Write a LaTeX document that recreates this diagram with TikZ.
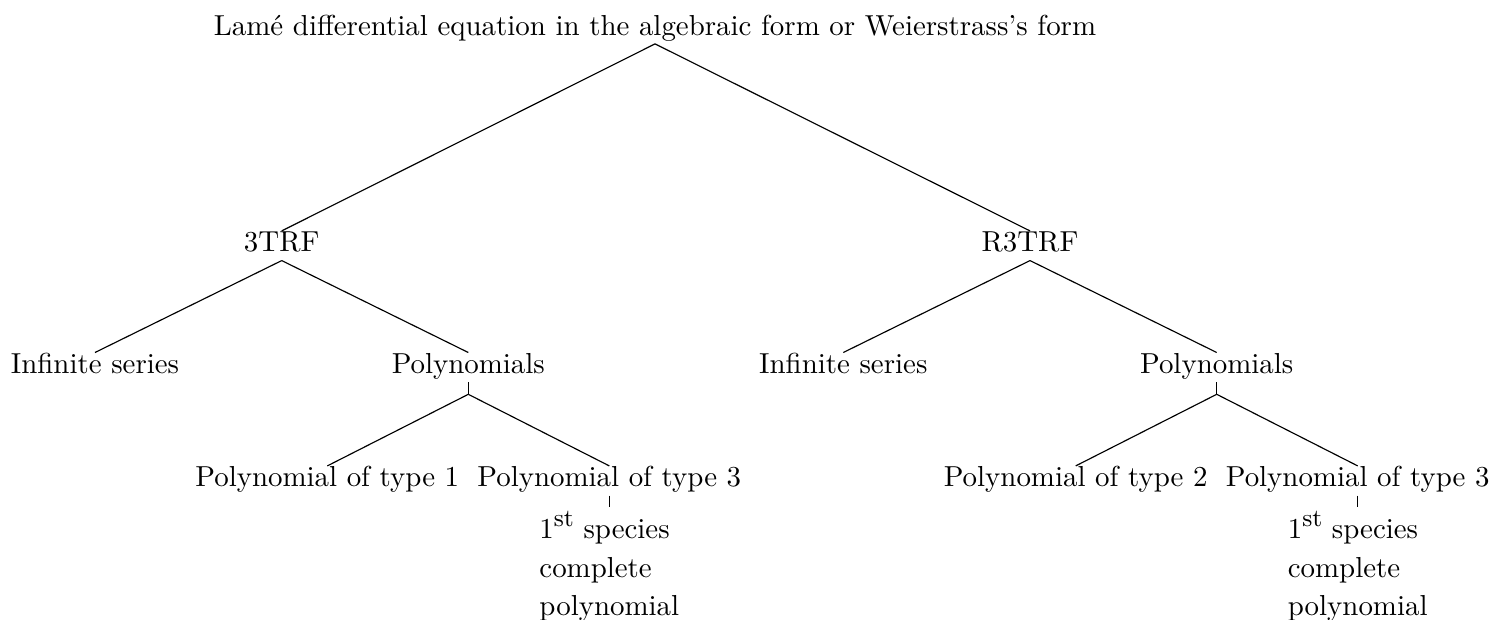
\documentclass[tikz,border=0pt]{standalone}
\usepackage{fontspec}
\newcommand{\supst}{\raisebox{4.1pt}{\fontsize{8.6pt}{10pt}\selectfont st}}
\begin{document}
\begin{tikzpicture}[x=0.34602pt,y=-0.34602pt,
  lbl/.style={inner sep=0pt,text height=7pt,text depth=2.87pt,anchor=base},
  multi/.style={inner xsep=0pt,inner ysep=1.5pt,align=left,anchor=north},
  conn/.style={line width=0.4pt}]
\useasboundingbox (0,0) rectangle (1495,619);
% level 0
\node[lbl] (root) at (655,35) {Lamé differential equation in the algebraic form or Weierstrass's form};
% level 1
\node[lbl] (a) at (281.7,251.7) {3TRF};
\node[lbl] (b) at (1030,251.7) {R3TRF};
% level 2
\node[lbl] (ais) at (95,373.3) {Infinite series};
\node[lbl] (ap) at (468.3,373.3) {Polynomials};
\node[lbl] (bis) at (843.3,373.3) {Infinite series};
\node[lbl] (bp) at (1216.7,373.3) {Polynomials};
\coordinate (aj) at (468.3,394.3);
\coordinate (bj) at (1216.7,394.3);
% level 3
\node[lbl] (at1) at (327.3,486.7) {Polynomial of type 1};
\node[lbl] (at3) at (609.3,486.7) {Polynomial of type 3};
\node[lbl] (bt2) at (1075.7,486.7) {Polynomial of type 2};
\node[lbl] (bt3) at (1357.7,486.7) {Polynomial of type 3};
% level 4
\node[multi] (as) at (609.3,506.7) {1\supst{} species\\[1.3pt]complete\\[1.3pt]polynomial};
\node[multi] (bs) at (1357.7,506.7) {1\supst{} species\\[1.3pt]complete\\[1.3pt]polynomial};
% connectors
\draw[conn] (root.south) -- (a.north);
\draw[conn] (root.south) -- (b.north);
\draw[conn] (a.south) -- (ais.north);
\draw[conn] (a.south) -- (ap.north);
\draw[conn] (b.south) -- (bis.north);
\draw[conn] (b.south) -- (bp.north);
\draw[conn] (ap.south) -- (aj);
\draw[conn] (aj) -- (at1.north);
\draw[conn] (aj) -- (at3.north);
\draw[conn] (bp.south) -- (bj);
\draw[conn] (bj) -- (bt2.north);
\draw[conn] (bj) -- (bt3.north);
\draw[conn] (at3.south) -- (as.north);
\draw[conn] (bt3.south) -- (bs.north);
\end{tikzpicture}
\end{document}
